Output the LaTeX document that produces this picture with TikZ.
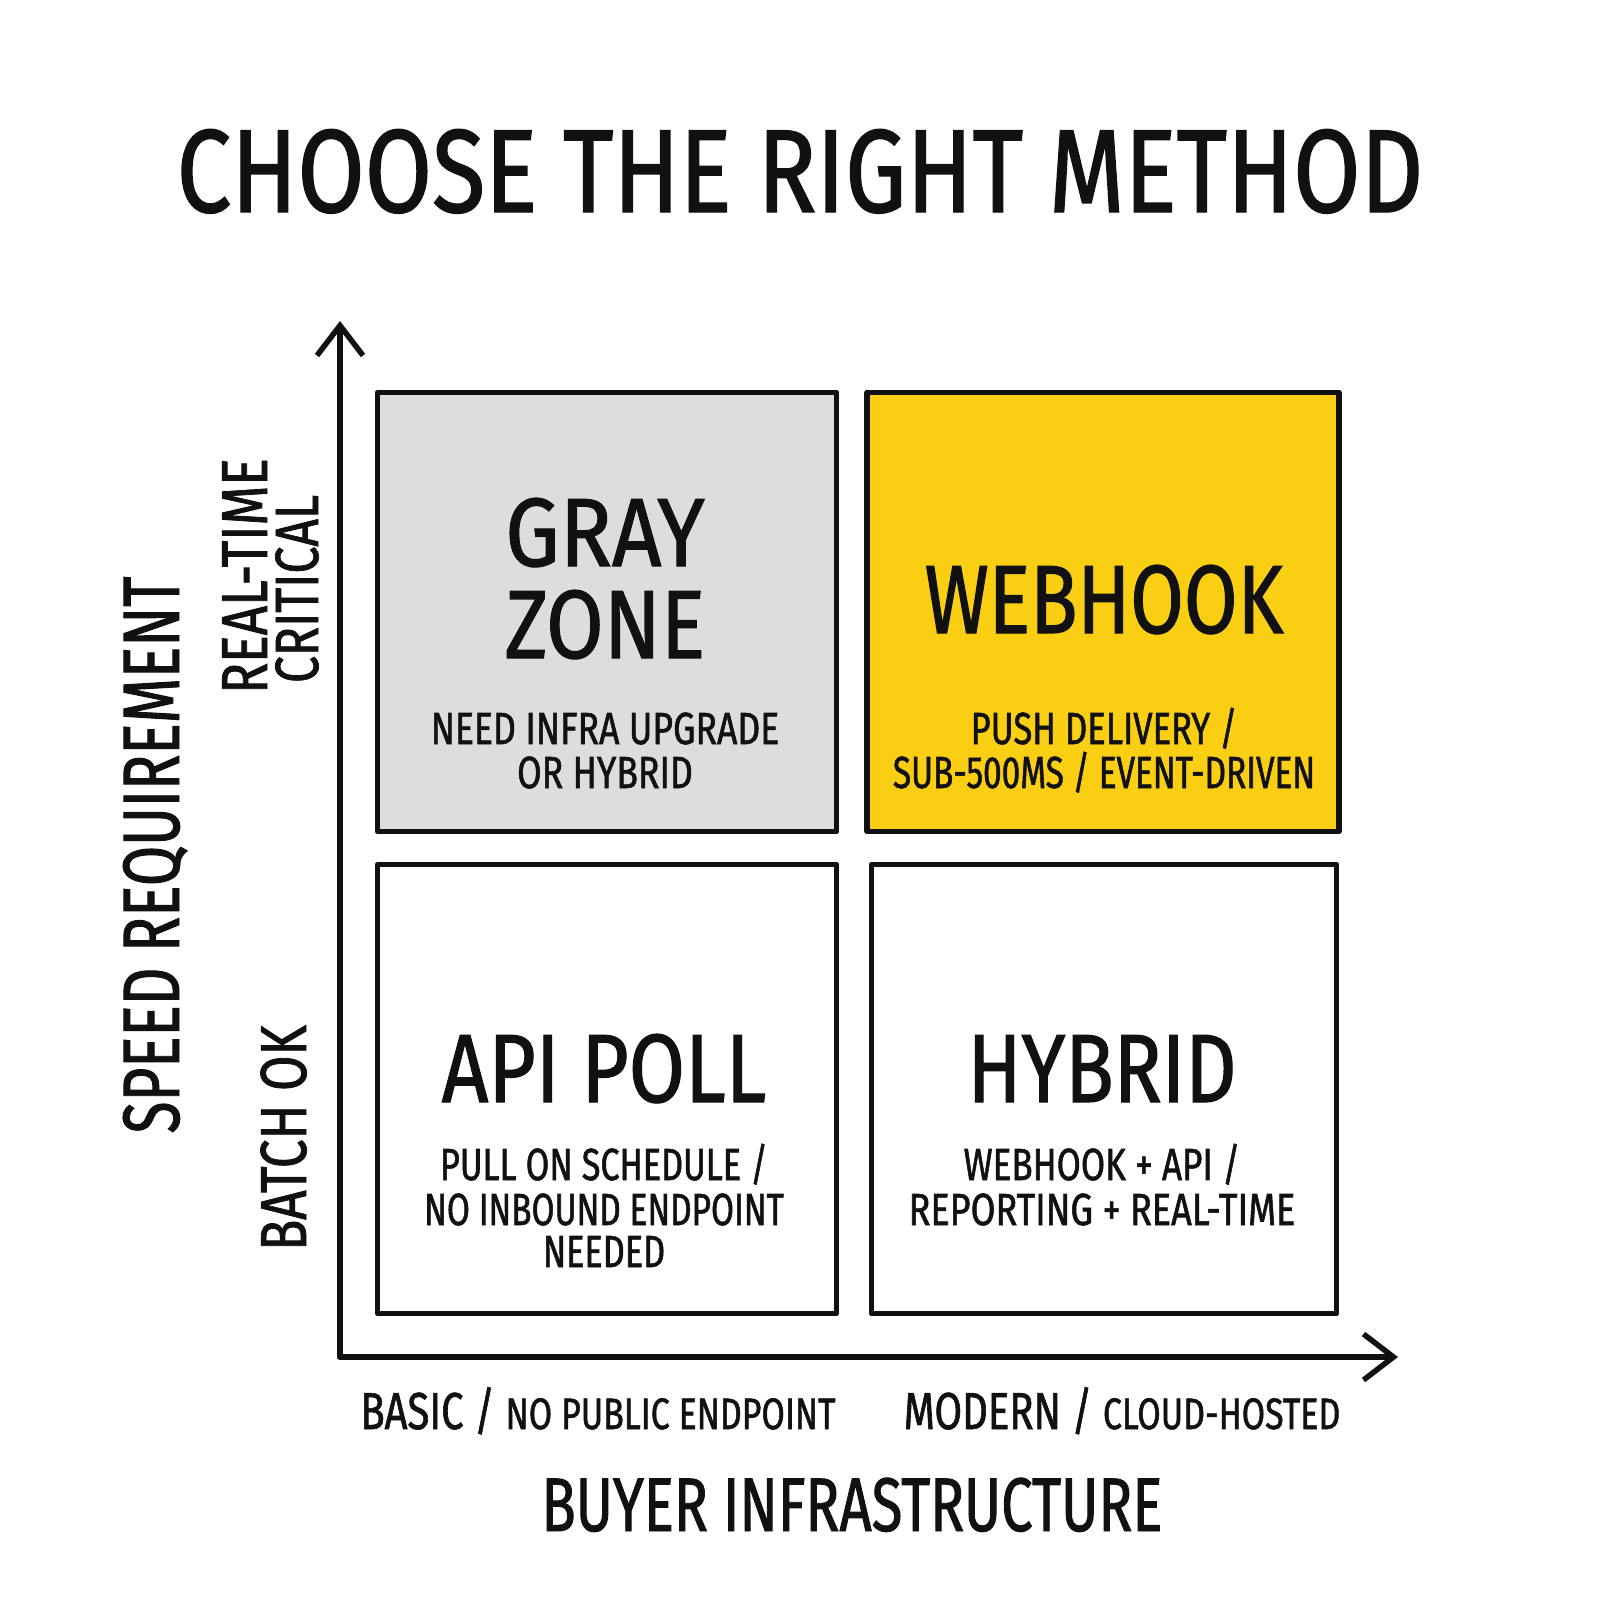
\documentclass[tikz,border=0pt]{standalone}
\usepackage{fontspec}
\setmainfont[FakeBold=1.2]{Fira Sans}
\usetikzlibrary{arrows.meta}
\definecolor{zonegray}{RGB}{221,221,221}
\definecolor{zoneyellow}{RGB}{250,206,18}
\definecolor{ink}{RGB}{17,17,17}
\newcommand{\fs}[1]{\fontsize{#1}{#1}\selectfont}
\begin{document}
\begin{tikzpicture}[x=1pt,y=-1pt,
  every node/.style={inner sep=0pt,outer sep=0pt,text=ink},
  narrow/.style={execute at begin node={\addfontfeatures{FakeStretch=#1}}},
  quad/.style={draw=ink,line width=5.5pt,line join=round,rectangle,minimum width=#1},
  axis/.style={draw=ink,line width=5.5pt,line cap=round,-{Straight Barb[length=30pt,width=46pt,line width=5.5pt]}},
  title/.style={font=\fs{118},narrow=0.825},
  big/.style={font=\fs{97},anchor=base},
  sub/.style={font=\fs{45},anchor=base},
  tick/.style={font=\fs{52},anchor=base,narrow=0.77},
  axlabel/.style={font=\fs{76},anchor=base,narrow=0.74},
  vlabel/.style={font=\fs{65},anchor=base,rotate=90}]
\useasboundingbox[fill=white] (0,0) rectangle (1600,1600);

% title
\node[title,anchor=base] (title) at (800,212) {CHOOSE THE RIGHT METHOD};

% four quadrants
\node[quad=459pt,minimum height=439pt,fill=zonegray] (gray) at (607,612) {};
\node[quad=472pt,minimum height=439pt,fill=zoneyellow] (hook) at (1103,612) {};
\node[quad=459pt,minimum height=449pt] (poll) at (607,1089) {};
\node[quad=465pt,minimum height=449pt] (hyb) at (1104,1089) {};

% axes
\coordinate (origin) at (340,1357);
\coordinate (ytip) at (340,321);
\coordinate (xtip) at (1398,1357);
\draw[axis] (origin) -- (ytip);
\draw[axis] (origin) -- (xtip);

% quadrant texts
\node[big,narrow=0.89] (grayA) at (605,566) {GRAY};
\node[big,narrow=0.86] (grayB) at (605,658) {ZONE};
\node[sub,narrow=0.79] (grayC) at (605,744) {NEED INFRA UPGRADE};
\node[sub,narrow=0.79] (grayD) at (605,788) {OR HYBRID};

\node[big,narrow=0.80] (hookA) at (1104,633) {WEBHOOK};
\node[sub,narrow=0.77] (hookB) at (1104,744) {PUSH DELIVERY /};
\node[sub,narrow=0.74] (hookC) at (1104,788) {SUB-500MS / EVENT-DRIVEN};

\node[big,narrow=0.84] (pollA) at (604,1102) {API POLL};
\node[sub,narrow=0.76] (pollB) at (604,1180) {PULL ON SCHEDULE /};
\node[sub,narrow=0.74] (pollC) at (604,1225) {NO INBOUND ENDPOINT};
\node[sub,narrow=0.76] (pollD) at (604,1267) {NEEDED};

\node[big,narrow=0.82] (hybA) at (1102,1102) {HYBRID};
\node[sub,narrow=0.78] (hybB) at (1102,1180) {WEBHOOK + API /};
\node[sub,narrow=0.80] (hybC) at (1102,1225) {REPORTING + REAL-TIME};

% axis tick labels
\node[tick] (basic) at (598,1429) {BASIC / {\fs{44}NO PUBLIC ENDPOINT}};
\node[tick] (modern) at (1122,1429) {MODERN / {\fs{44}CLOUD-HOSTED}};
\node[axlabel] (xlab) at (852,1531) {BUYER INFRASTRUCTURE};

\node[vlabel,font=\fs{80},narrow=0.73] (ylab) at (179,855) {SPEED REQUIREMENT};
\node[vlabel,narrow=0.79] (rt1) at (267,576) {REAL-TIME};
\node[vlabel,font=\fs{61},narrow=0.79] (rt2) at (318,589) {CRITICAL};
\node[vlabel,narrow=0.79] (batch) at (306,1138) {BATCH OK};
\end{tikzpicture}
\end{document}
